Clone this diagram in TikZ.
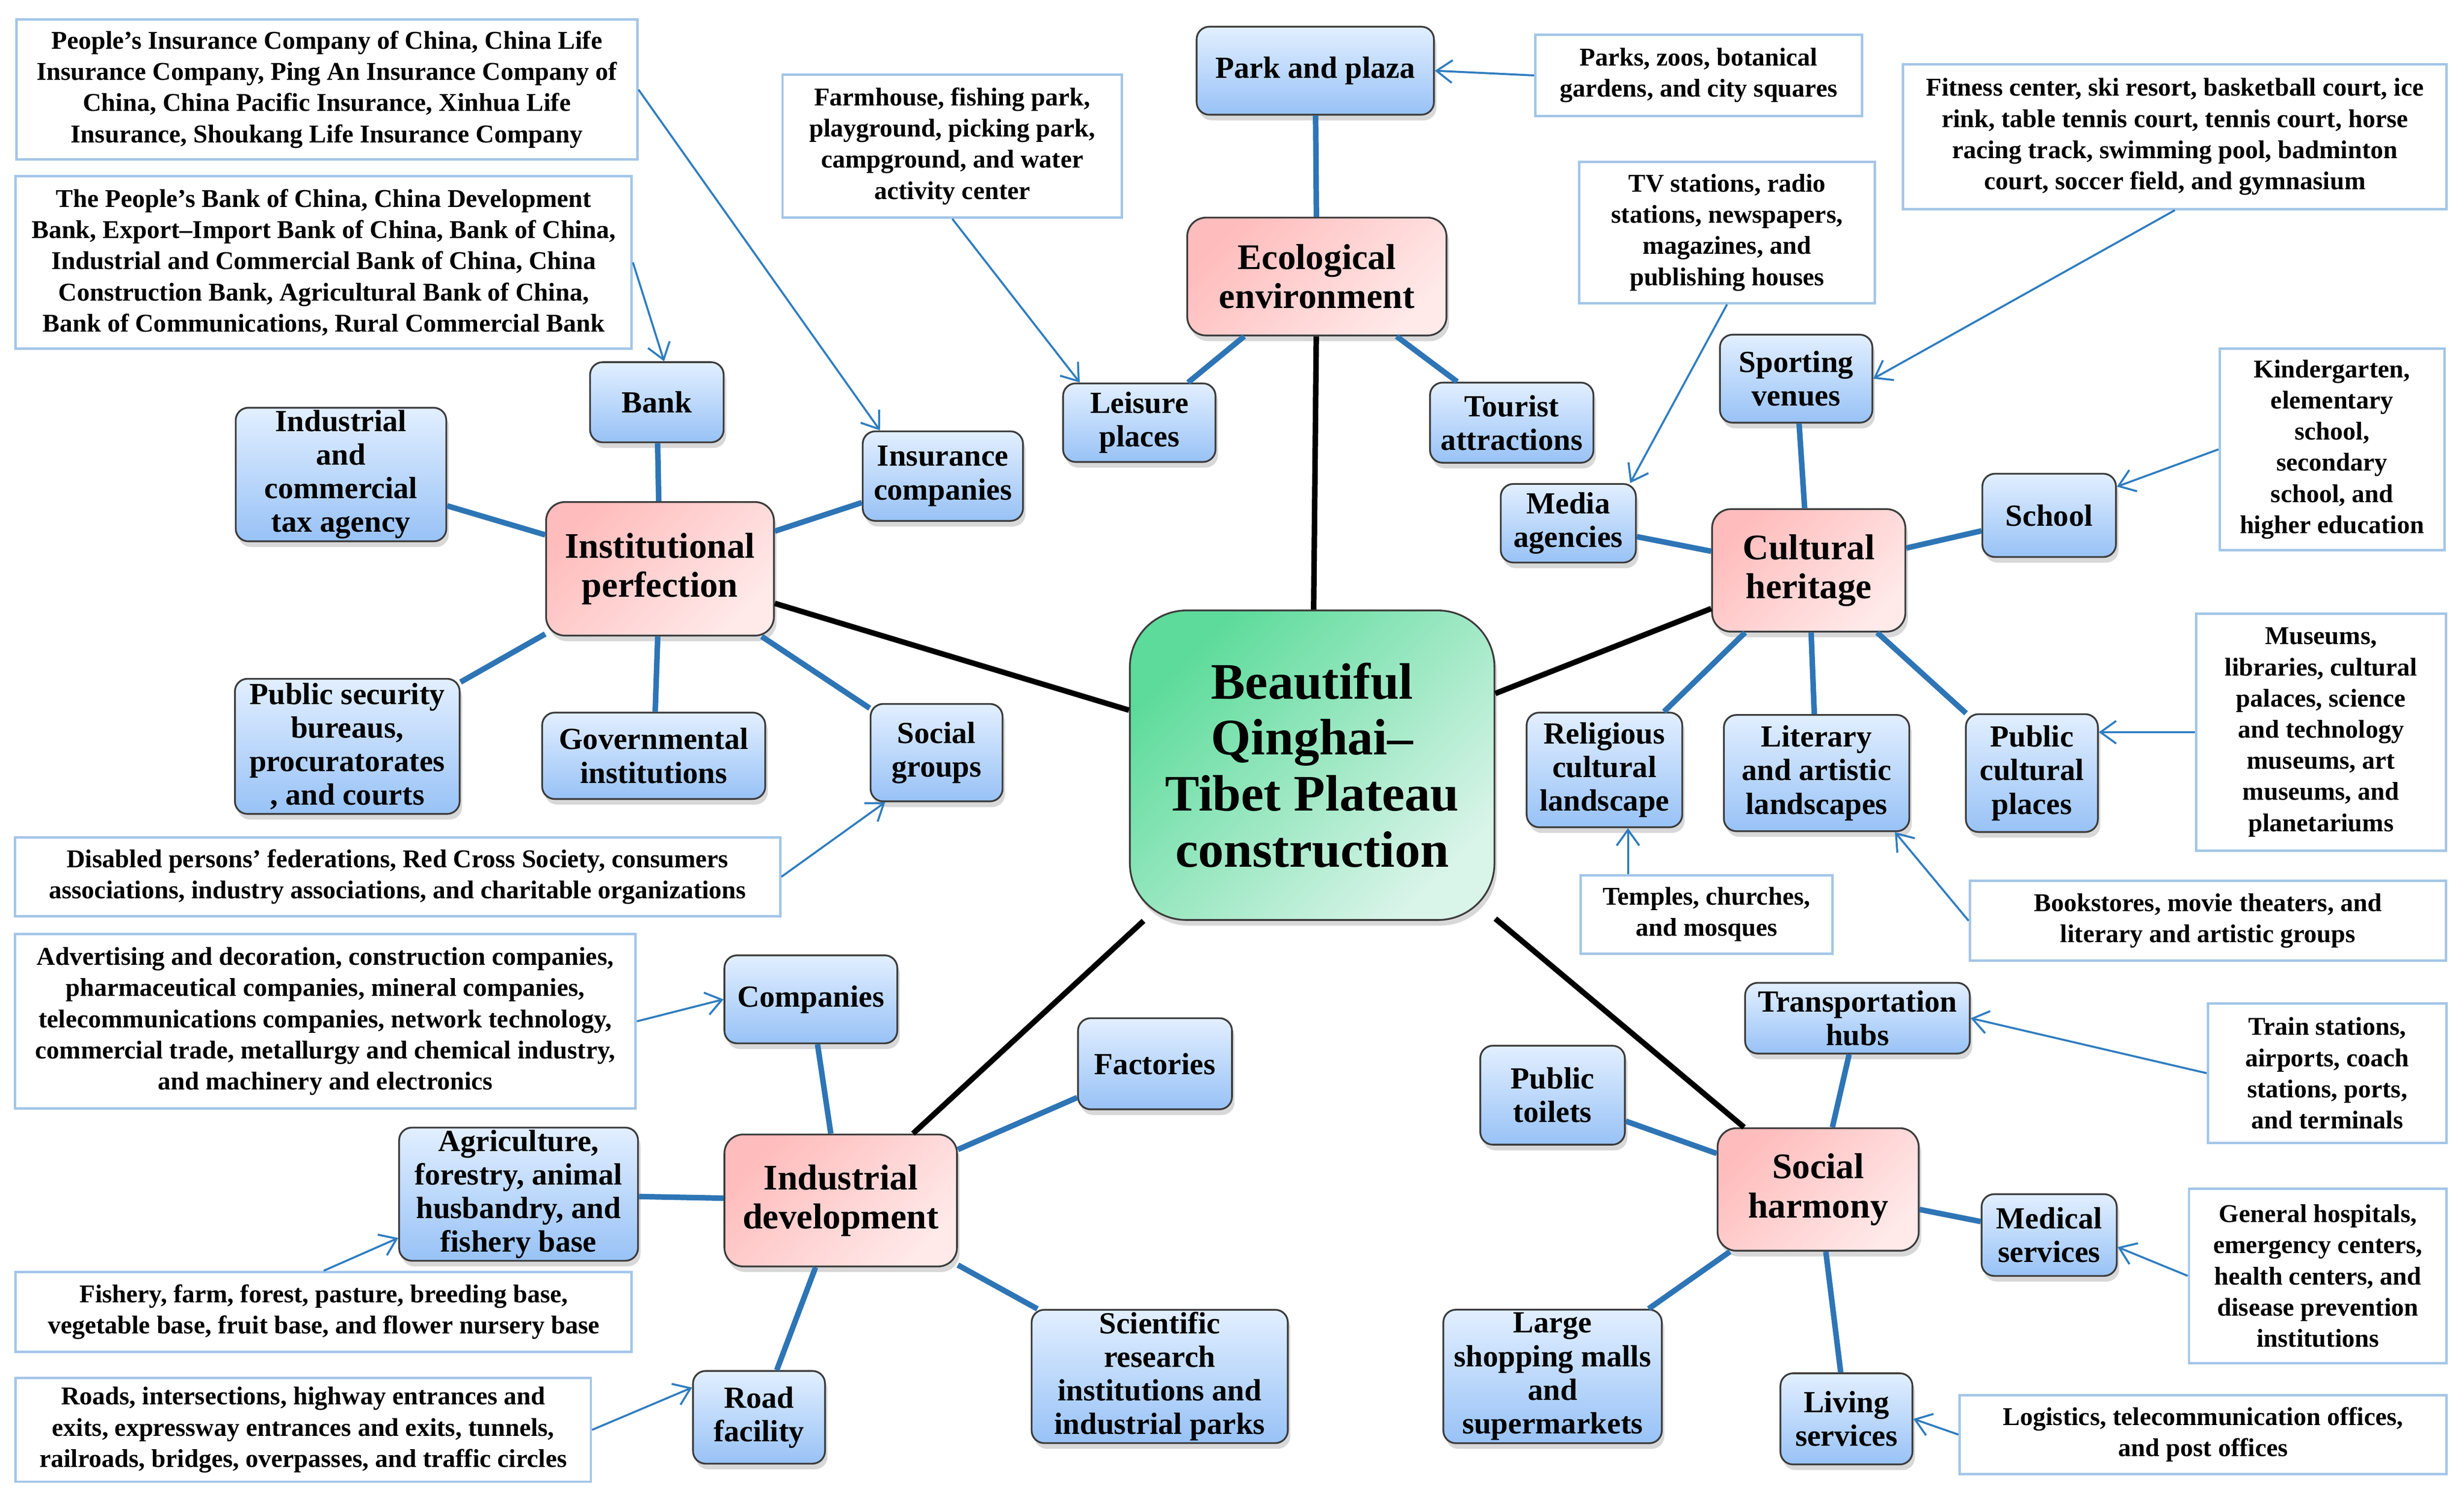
\documentclass[tikz,border=0pt]{standalone}
\usepackage{fontspec}
\setmainfont{Liberation Serif}
\usetikzlibrary{arrows.meta,shadows}

\definecolor{leafTop}{HTML}{E2EFFF}
\definecolor{leafBot}{HTML}{98C2F6}
\definecolor{pinkA}{HTML}{FFBCBC}
\definecolor{pinkB}{HTML}{FFE9E9}
\definecolor{greenA}{HTML}{5CDB9A}
\definecolor{greenB}{HTML}{D9F4E9}
\definecolor{nodeline}{HTML}{3C3C3C}
\definecolor{noteline}{HTML}{A3C6E8}
\definecolor{branchblue}{HTML}{2E75B6}
\definecolor{arrowblue}{HTML}{2F7DC0}

\newcommand\notefont{\fontsize{11.6}{14.1}\selectfont\bfseries}
\newcommand\leaffont{\fontsize{13.9}{15.2}\selectfont\bfseries}
\newcommand\hubfont{\fontsize{16.3}{17.7}\selectfont\bfseries}
\newcommand\corefont{\fontsize{23.2}{25.4}\selectfont\bfseries}

\tikzset{
  sz/.style 2 args={minimum width=#1*0.025cm, minimum height=#2*0.025cm},
  softshadow/.style={drop shadow={opacity=0.3, shadow xshift=0.04cm, shadow yshift=-0.09cm}},
  leaf/.style={draw=nodeline, line width=0.8pt, rounded corners=0.2cm,
    top color=leafTop, bottom color=leafBot, softshadow,
    align=center, font=\leaffont, inner sep=1pt},
  hub/.style={draw=nodeline, line width=0.8pt, rounded corners=0.3cm,
    top color=pinkA, bottom color=pinkB, shading angle=45, softshadow,
    align=center, font=\hubfont, inner sep=1pt},
  core/.style={draw=nodeline, line width=0.8pt, rounded corners=0.9cm,
    top color=greenA, bottom color=greenB, shading angle=45, softshadow,
    align=center, font=\corefont, inner sep=1pt},
  note/.style={draw=noteline, line width=1.1pt, fill=white,
    align=center, font=\notefont, inner sep=1pt},
  branch/.style={draw=branchblue, line width=2.5pt},
  trunk/.style={draw=black, line width=2.5pt},
  pointer/.style={draw=arrowblue, line width=0.9pt,
    -{Straight Barb[length=2.5mm,width=3.6mm]}},
}

\begin{document}
\begin{tikzpicture}[x=0.025cm, y=-0.025cm]
  \useasboundingbox[fill=white] (0,0) rectangle (1568,952);

  %%%%% notes %%%%%
  \node[note, sz={395}{89}] (insnote) at (208,57) {People’s Insurance Company of China, China Life\\Insurance Company, Ping An Insurance Company of\\China, China Pacific Insurance, Xinhua Life\\Insurance, Shoukang Life Insurance Company};
  \node[note, sz={392}{110}] (banknote) at (206,167) {The People’s Bank of China, China Development\\Bank, Export–Import Bank of China, Bank of China,\\Industrial and Commercial Bank of China, China\\Construction Bank, Agricultural Bank of China,\\Bank of Communications, Rural Commercial Bank};
  \node[note, sz={216}{91}] (farmnote) at (606,93) {Farmhouse, fishing park,\\playground, picking park,\\campground, and water\\activity center};
  \node[note, sz={208}{52}] (parknote) at (1081,48) {Parks, zoos, botanical\\gardens, and city squares};
  \node[note, sz={188}{90}] (tvnote) at (1099,148) {TV stations, radio\\stations, newspapers,\\magazines, and\\publishing houses};
  \node[note, sz={346}{92}] (fitnote) at (1384,87) {Fitness center, ski resort, basketball court, ice\\rink, table tennis court, tennis court, horse\\racing track, swimming pool, badminton\\court, soccer field, and gymnasium};
  \node[note, sz={143}{128}] (kindnote) at (1484,286) {Kindergarten,\\elementary\\school,\\secondary\\school, and\\higher education};
  \node[note, sz={159}{151}] (musenote) at (1477,466) {Museums,\\libraries, cultural\\palaces, science\\and technology\\museums, art\\museums, and\\planetariums};
  \node[note, sz={160}{50}] (templenote) at (1086,582) {Temples, churches,\\and mosques};
  \node[note, sz={303}{51}] (booknote) at (1405,586) {Bookstores, movie theaters, and\\literary and artistic groups};
  \node[note, sz={487}{50}] (disnote) at (253,558) {Disabled persons’ federations, Red Cross Society, consumers\\associations, industry associations, and charitable organizations};
  \node[note, sz={395}{111}] (advnote) at (207,650) {Advertising and decoration, construction companies,\\pharmaceutical companies, mineral companies,\\telecommunications companies, network technology,\\commercial trade, metallurgy and chemical industry,\\and machinery and electronics};
  \node[note, sz={392}{51}] (fishnote) at (206,835) {Fishery, farm, forest, pasture, breeding base,\\vegetable base, fruit base, and flower nursery base};
  \node[note, sz={366}{66}] (roadnote) at (193,910) {Roads, intersections, highway entrances and\\exits, expressway entrances and exits, tunnels,\\railroads, bridges, overpasses, and traffic circles};
  \node[note, sz={152}{89}] (trainnote) at (1481,683) {Train stations,\\airports, coach\\stations, ports,\\and terminals};
  \node[note, sz={164}{111}] (hospnote) at (1475,812) {General hospitals,\\emergency centers,\\health centers, and\\disease prevention\\institutions};
  \node[note, sz={310}{50}] (logisnote) at (1402,913) {Logistics, telecommunication offices,\\and post offices};

  %%%%% centre and hubs %%%%%
  \node[core, sz={232}{197}] (core) at (835,487) {Beautiful\\Qinghai–\\Tibet Plateau\\construction};
  \node[hub, sz={165}{75}] (eco) at (838,176) {Ecological\\environment};
  \node[hub, sz={145}{85}] (inst) at (420,362) {Institutional\\perfection};
  \node[hub, sz={123}{78}] (cult) at (1151,363) {Cultural\\heritage};
  \node[hub, sz={148}{84}] (indus) at (535,764) {Industrial\\development};
  \node[hub, sz={128}{78}] (harm) at (1157,757) {Social\\harmony};

  %%%%% leaves %%%%%
  \node[leaf, sz={151}{56}] (park) at (837,45) {Park and plaza};
  \node[leaf, sz={97}{50}] (leisure) at (725,269) {Leisure\\places};
  \node[leaf, sz={104}{51}] (tourist) at (962,269) {Tourist\\attractions};

  \node[leaf, sz={85}{51}] (bank) at (418,256) {Bank};
  \node[leaf, sz={134}{85}] (tax) at (217,302) {Industrial\\and\\commercial\\tax agency};
  \node[leaf, sz={102}{57}] (insur) at (600,303) {Insurance\\companies};
  \node[leaf, sz={143}{86}] (police) at (221,475) {Public security\\bureaus,\\procuratorates\\, and courts};
  \node[leaf, sz={142}{55}] (gov) at (416,481) {Governmental\\institutions};
  \node[leaf, sz={84}{62}] (socgrp) at (596,479) {Social\\groups};

  \node[leaf, sz={97}{56}] (sport) at (1143,241) {Sporting\\venues};
  \node[leaf, sz={86}{50}] (media) at (998,333) {Media\\agencies};
  \node[leaf, sz={85}{53}] (school) at (1304,328) {School};
  \node[leaf, sz={99}{73}] (relig) at (1021,490) {Religious\\cultural\\landscape};
  \node[leaf, sz={118}{74}] (liter) at (1156,492) {Literary\\and artistic\\landscapes};
  \node[leaf, sz={84}{75}] (pubcult) at (1293,492) {Public\\cultural\\places};

  \node[leaf, sz={110}{56}] (comp) at (516,636) {Companies};
  \node[leaf, sz={98}{58}] (fact) at (735,677) {Factories};
  \node[leaf, sz={152}{84}] (agri) at (330,760) {Agriculture,\\forestry, animal\\husbandry, and\\fishery base};
  \node[leaf, sz={84}{59}] (road) at (483,902) {Road\\facility};
  \node[leaf, sz={163}{83}] (sci) at (738,876) {Scientific\\research\\institutions and\\industrial parks};

  \node[leaf, sz={143}{45}] (trans) at (1182,648) {Transportation\\hubs};
  \node[leaf, sz={92}{63}] (toilet) at (988,697) {Public\\toilets};
  \node[leaf, sz={86}{52}] (medic) at (1304,786) {Medical\\services};
  \node[leaf, sz={139}{85}] (mall) at (988,876) {Large\\shopping malls\\and\\supermarkets};
  \node[leaf, sz={84}{58}] (living) at (1175,903) {Living\\services};

  %%%%% connectors %%%%%
  \foreach \hub in {eco,inst,cult,indus,harm}
    \draw[trunk] (core) -- (\hub);
  \foreach \leaf in {park,leisure,tourist}
    \draw[branch] (eco) -- (\leaf);
  \foreach \leaf in {bank,tax,insur,police,gov,socgrp}
    \draw[branch] (inst) -- (\leaf);
  \foreach \leaf in {sport,media,school,relig,liter,pubcult}
    \draw[branch] (cult) -- (\leaf);
  \foreach \leaf in {comp,fact,agri,road,sci}
    \draw[branch] (indus) -- (\leaf);
  \foreach \leaf in {trans,toilet,medic,mall,living}
    \draw[branch] (harm) -- (\leaf);

  %%%%% pointers %%%%%
  \draw[pointer] (insnote.east) -- (insur.144);
  \draw[pointer] (banknote.east) -- (bank.80);
  \draw[pointer] (farmnote.south) -- (leisure.146);
  \draw[pointer] (parknote.west) -- (park.east);
  \draw[pointer] (tvnote.south) -- (media.33);
  \draw[pointer] (fitnote.south) -- (sport.east);
  \draw[pointer] (kindnote.west) -- (school.23);
  \draw[pointer] (musenote.west) -- (pubcult.east |- musenote.west);
  \draw[pointer] (templenote.north -| relig.292) -- (relig.292);
  \draw[pointer] (booknote.west) -- (liter.-37);
  \draw[pointer] (disnote.east) -- (socgrp.224);
  \draw[pointer] (advnote.east) -- (comp.west);
  \draw[pointer] (fishnote.north) -- (agri.200);
  \draw[pointer] (roadnote.east) -- (road.156);
  \draw[pointer] (trainnote.west) -- (trans.east);
  \draw[pointer] (hospnote.west) -- (medic.-10);
  \draw[pointer] (logisnote.west) -- (living.east);
\end{tikzpicture}
\end{document}
